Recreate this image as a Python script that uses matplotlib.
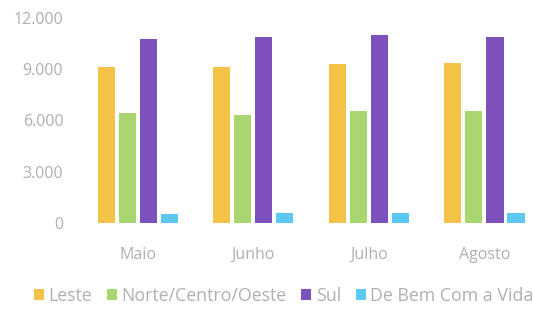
import numpy as np
import matplotlib.pyplot as plt

months = ["Maio", "Junho", "Julho", "Agosto"]
series = ["Leste", "Norte/Centro/Oeste", "Sul", "De Bem Com a Vida"]
leste = [9150, 9150, 9290, 9380]
norte = [6450, 6320, 6570, 6570]
sul = [10770, 10900, 11000, 10860]
debem = [530, 600, 600, 580]
yticks = [0, 3000, 6000, 9000, 12000]
ytick_labels = ["0", "3.000", "6.000", "9.000", "12.000"]

colors = ["#F4C246", "#A9D66E", "#7D52BC", "#5CC8F4"]
txt = "#b0b0b0"

plt.rcParams['font.family'] = ['Open Sans', 'DejaVu Sans']

fig = plt.figure(figsize=(5.33, 3.12), dpi=100)
ax = fig.add_axes([80 / 533, 1 - 223 / 312, 453 / 533, 205 / 312])

x = np.arange(len(months))
w = 0.148
step = 0.182
for i, (vals, c, name) in enumerate(zip([leste, norte, sul, debem], colors, series)):
    ax.bar(x + (i - 1.5) * step, vals, width=w, color=c, label=name)

ax.set_xlim(-0.5, 3.42)
ax.set_ylim(0, 12000)
ax.set_yticks(yticks)
ax.set_yticklabels(ytick_labels)
ax.set_xticks(x)
ax.set_xticklabels(months)
ax.tick_params(axis='both', length=0, colors=txt, labelsize=11.5)
ax.tick_params(axis='x', pad=17)
ax.tick_params(axis='y', pad=12)
for s in ax.spines.values():
    s.set_visible(False)

leg = fig.legend(loc='center left', bbox_to_anchor=(34 / 533, 1 - 296 / 312), ncol=4, frameon=False,
                 handlelength=0.55, handleheight=0.55, handletextpad=0.25,
                 columnspacing=0.85, fontsize=12.8, borderpad=0, borderaxespad=0)
for t in leg.get_texts():
    t.set_color(txt)

fig.savefig("out.png", dpi=100)
